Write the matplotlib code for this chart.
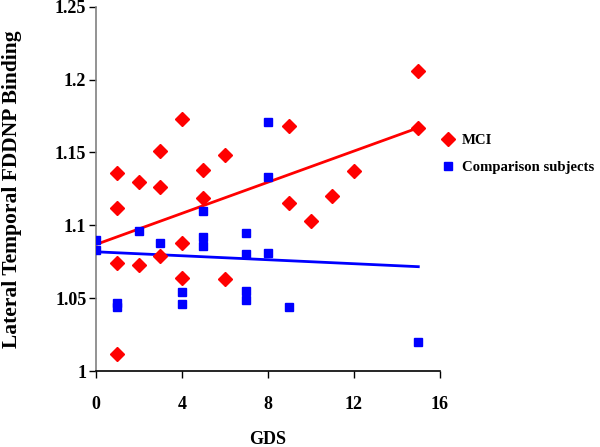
import numpy as np
import matplotlib
matplotlib.use("Agg")
import matplotlib.pyplot as plt

plt.rcParams["font.family"] = ["Liberation Serif", "DejaVu Serif"]
plt.rcParams["font.weight"] = "bold"

# MCI group (red diamonds)
mci_gds = [1, 1, 1, 1, 2, 2, 3, 3, 3, 4, 4, 4, 5, 5, 6, 6, 9, 9, 10, 11, 12, 15, 15]
mci_binding = [1.136, 1.112, 1.074, 1.012, 1.130, 1.073, 1.151, 1.126, 1.079,
               1.173, 1.088, 1.064, 1.138, 1.119, 1.148, 1.063, 1.168, 1.115,
               1.103, 1.120, 1.137, 1.206, 1.167]

# comparison subjects (blue squares)
ctrl_gds = [0, 0, 1, 1, 2, 3, 4, 4, 5, 5, 5, 7, 7, 7, 7, 8, 8, 8, 9, 15]
ctrl_binding = [1.090, 1.083, 1.047, 1.044, 1.096, 1.088, 1.054, 1.046, 1.110,
                1.092, 1.086, 1.095, 1.080, 1.055, 1.049, 1.171, 1.133, 1.081,
                1.044, 1.020]

fig = plt.figure(figsize=(6, 4.47), dpi=100)
ax = fig.add_axes([0.16, 0.17, 0.573, 0.815])

ax.plot(mci_gds, mci_binding, "D", color="#ff0000", ms=7, mec="#ff0000", label="MCI", zorder=3)
ax.plot(ctrl_gds, ctrl_binding, "s", color="#0000ff", ms=5.5, mec="#0000ff",
        label="Comparison subjects", zorder=3)

# linear trend lines
for gx, gy, col in [(mci_gds, mci_binding, "#ff0000"), (ctrl_gds, ctrl_binding, "#0000ff")]:
    slope, inter = np.polyfit(gx, gy, 1)
    xs = np.array([0, 15])
    ax.plot(xs, slope * xs + inter, color=col, lw=2, zorder=2)

ax.set_xlim(0, 16)
ax.set_ylim(1, 1.25)
ax.set_xticks([0, 4, 8, 12, 16])
ax.set_yticks([1, 1.05, 1.1, 1.15, 1.2, 1.25])
ax.set_yticklabels(["1", "1.05", "1.1", "1.15", "1.2", "1.25"])
ax.tick_params(labelsize=13, length=5, width=1, direction="out")
ax.tick_params(axis="x", pad=13)
ax.tick_params(axis="y", pad=2)
for s in ["top", "right"]:
    ax.spines[s].set_visible(False)
ax.spines["left"].set_color("#808080")
ax.spines["left"].set_linewidth(1.2)
ax.spines["bottom"].set_linewidth(1.2)

ax.set_xlabel("GDS", fontsize=13, fontweight="bold")
ax.set_ylabel("Lateral Temporal FDDNP Binding", fontsize=15.5, fontweight="bold", labelpad=24)
ax.xaxis.set_label_coords(0.5, -0.165)

ax.legend(loc="center left", bbox_to_anchor=(0.96, 0.596), frameon=False, fontsize=10.6,
          handletextpad=0.35, handlelength=1.2, labelspacing=0.95)

fig.savefig("out.png", dpi=100)
